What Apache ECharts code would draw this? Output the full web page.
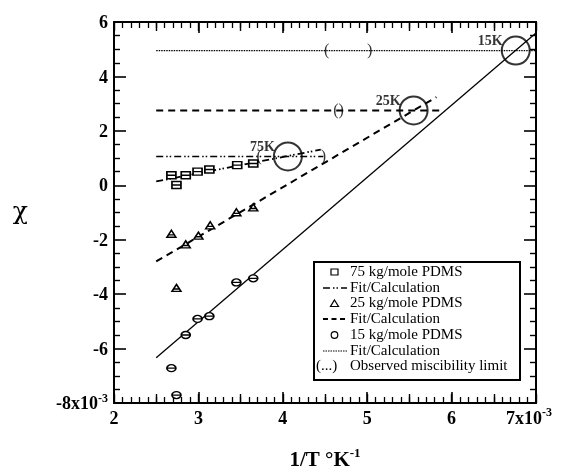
<!DOCTYPE html>
<html>
<head>
<meta charset="utf-8">
<script src="https://cdn.jsdelivr.net/npm/echarts@6/dist/echarts.min.js"></script>
<style>
  html, body { margin: 0; padding: 0; background: #fff; }
  #chart { width: 561px; height: 476px; }
</style>
</head>
<body>
<div id="chart"></div>
<script>
// Flory-Huggins chi versus inverse temperature for three PDMS molecular weights
const FONT = '"Liberation Serif", "Times New Roman", serif';

// measured chi values [1/T, chi]
const pdms75 = [[2.68, 0.37], [2.74, 0.01], [2.85, 0.37], [2.99, 0.50], [3.13, 0.58], [3.46, 0.74], [3.65, 0.80]];
const pdms25 = [[2.68, -1.78], [2.74, -3.77], [2.85, -2.17], [3.00, -1.85], [3.14, -1.47], [3.45, -0.99], [3.65, -0.81]];
const pdms15 = [[2.68, -6.72], [2.74, -7.71], [2.85, -5.50], [2.99, -4.91], [3.13, -4.81], [3.45, -3.57], [3.65, -3.42]];

// linear fits
const fit75 = [[2.5, 0.14], [4.45, 1.31]];
const fit25 = [[2.5, -2.80], [5.82, 3.24]];
const fit15 = [[2.5, -6.34], [7.0, 5.60]];

// calculated critical chi (horizontal lines)
const crit75 = [[2.5, 1.06], [4.48, 1.06]];
const crit25 = [[2.5, 2.75], [5.86, 2.75]];
const crit15 = [[2.5, 4.95], [7.0, 4.95]];

// intersection circles
const critPoints = [[4.06, 1.06], [5.55, 2.75], [6.76, 4.95]];
const critNames = ['75K', '25K', '15K'];

// observed miscibility limits, drawn as brackets
const limitPos = [[3.72, 1.06], [4.48, 1.06], [4.66, 2.75], [4.52, 4.95], [5.03, 4.95]];
const limitMarks = ['(', ')', '()', '(', ')'];

// axis ticks
const xMin = 2, xMax = 7, xStep = 1;
const yMin = -8, yMax = 6, yStep = 2;

const SQ = 'path://M0,0 L10,0 L10,8 L0,8 Z M0,4 L10,4';
const TRI = 'path://M5,0 L10,8 L0,8 Z M1.6,5.3 L8.4,5.3';
const CIR = 'path://M0,4 A5,4 0 1,1 10,4 A5,4 0 1,1 0,4 Z M0,4 L10,4';

const DASHDOT = [7, 3, 1.5, 2, 1.5, 3];
const DASH = [7, 5];
const DOT = [1.5, 1];

// tick labels with raised exponent
const labelRich = {
  b: { fontFamily: FONT, fontSize: 18, fontWeight: 'bold', color: '#000', verticalAlign: 'bottom', padding: [3, 0, 0, 0] },
  s: { fontFamily: FONT, fontSize: 12, fontWeight: 'bold', color: '#000', verticalAlign: 'top' },
  sr: { fontFamily: FONT, fontSize: 12, fontWeight: 'bold', color: '#000', verticalAlign: 'top', padding: [0, 14, 0, 0] }
};

function xAxisCfg(pos, main) {
  return {
    type: 'value', position: pos, min: xMin, max: xMax, interval: xStep,
    axisLine: { show: true, onZero: false, lineStyle: { color: '#000', width: 2 } },
    axisTick: { show: true, inside: true, length: 11, lineStyle: { color: '#000', width: 1.6 } },
    minorTick: { show: true, splitNumber: 10, length: 6, lineStyle: { color: '#000', width: 1.3 } },
    splitLine: { show: false },
    axisLabel: main ? {
      show: true, margin: 4, rich: labelRich,
      formatter: v => v === xMax ? '{b|' + v + 'x10}{sr|-3}' : '{b|' + v + '}'
    } : { show: false },
    name: main ? '{t|1/T °K}{ts|-1}' : '',
    nameLocation: 'middle', nameGap: 44,
    nameTextStyle: {
      rich: {
        t: { fontFamily: FONT, fontSize: 21, fontWeight: 'bold', color: '#000', verticalAlign: 'bottom', padding: [3, 0, 0, 0] },
        ts: { fontFamily: FONT, fontSize: 13, fontWeight: 'bold', color: '#000', verticalAlign: 'top' }
      }
    }
  };
}
function xHalfCfg(pos) {
  return {
    type: 'value', position: pos, min: xMin, max: xMax, interval: 0.5,
    axisLine: { show: false, onZero: false },
    axisTick: { show: true, inside: true, length: 9, lineStyle: { color: '#000', width: 1.4 } },
    splitLine: { show: false }, axisLabel: { show: false }
  };
}
function yAxisCfg(pos, main) {
  return {
    type: 'value', position: pos, min: yMin, max: yMax, interval: yStep,
    axisLine: { show: true, onZero: false, lineStyle: { color: '#000', width: 2 } },
    axisTick: { show: true, inside: true, length: 12, lineStyle: { color: '#000', width: 1.6 } },
    minorTick: { show: true, splitNumber: 4, length: 6, lineStyle: { color: '#000', width: 1.4 } },
    splitLine: { show: false },
    axisLabel: main ? {
      show: true, margin: 6, rich: labelRich,
      formatter: v => v === yMin ? '{b|' + v + 'x10}{s|-3}' : '{b|' + v + '}'
    } : { show: false },
    name: main ? 'χ' : '',
    nameLocation: 'middle', nameGap: 86, nameRotate: 0,
    nameTextStyle: { fontFamily: '"DejaVu Serif", serif', fontSize: 25, color: '#000' }
  };
}

function lineSeries(data, type, width) {
  return {
    type: 'line', data: data, symbol: 'none', silent: true, z: 3,
    lineStyle: { color: '#000', width: width, type: type }
  };
}
function markerSeries(data, symbol, size) {
  return {
    type: 'scatter', data: data, symbol: symbol, symbolSize: size, z: 5,
    itemStyle: { color: '#fff', borderColor: '#000', borderWidth: 1.5, opacity: 1 }
  };
}

// legend drawn as a boxed key inside the plot
const LX = 314, LY = 262, LW = 206, LH = 118;
const rowY = [272, 288, 303.5, 319, 335, 351, 366.5];
const legendText = ['75 kg/mole PDMS', 'Fit/Calculation', '25 kg/mole PDMS', 'Fit/Calculation',
  '15 kg/mole PDMS', 'Fit/Calculation', 'Observed miscibility limit'];
const legendGraphic = [
  { type: 'rect', shape: { x: LX, y: LY, width: LW, height: LH },
    style: { fill: '#fff', stroke: '#000', lineWidth: 2 }, z: 10 }
];
legendText.forEach((t, i) => {
  legendGraphic.push({ type: 'text', z: 11,
    style: { x: 350, y: rowY[i], text: t, font: '15px ' + FONT, fill: '#000', verticalAlign: 'middle' } });
});
legendGraphic.push(
  { type: 'rect', z: 11, shape: { x: 331, y: rowY[0] - 3, width: 7, height: 6 }, style: { fill: '#fff', stroke: '#000', lineWidth: 1.2 } },
  { type: 'line', z: 11, shape: { x1: 323, y1: rowY[1], x2: 347, y2: rowY[1] }, style: { stroke: '#000', lineWidth: 1.6, lineDash: DASHDOT } },
  { type: 'polygon', z: 11, shape: { points: [[334.5, rowY[2] - 3.5], [338.5, rowY[2] + 3], [330.5, rowY[2] + 3]] }, style: { fill: '#fff', stroke: '#000', lineWidth: 1.2 } },
  { type: 'line', z: 11, shape: { x1: 323, y1: rowY[3], x2: 347, y2: rowY[3] }, style: { stroke: '#000', lineWidth: 1.8, lineDash: [5, 3.5] } },
  { type: 'circle', z: 11, shape: { cx: 334.5, cy: rowY[4], r: 3.3 }, style: { fill: '#fff', stroke: '#000', lineWidth: 1.2 } },
  { type: 'line', z: 11, shape: { x1: 323, y1: rowY[5], x2: 347, y2: rowY[5] }, style: { stroke: '#000', lineWidth: 1.2, lineDash: DOT } },
  { type: 'text', z: 11, style: { x: 316, y: rowY[6], text: '(...)', font: '15px ' + FONT, fill: '#000', verticalAlign: 'middle' } }
);

const chart = echarts.init(document.getElementById('chart'), null, { renderer: 'canvas' });
chart.setOption({
  backgroundColor: '#fff',
  animation: false,
  grid: { left: 114, top: 22, right: 25, bottom: 63, containLabel: false },
  xAxis: [xAxisCfg('bottom', true), xAxisCfg('top', false), xHalfCfg('bottom'), xHalfCfg('top')],
  yAxis: [yAxisCfg('left', true), yAxisCfg('right', false)],
  series: [
    lineSeries(crit15, DOT, 1.2),
    lineSeries(crit25, DASH, 2),
    lineSeries(crit75, DASHDOT, 1.6),
    lineSeries(fit15, 'solid', 1.3),
    lineSeries(fit25, DASH, 2),
    lineSeries(fit75, DASHDOT, 1.8),
    markerSeries(pdms75, SQ, [9, 7]),
    markerSeries(pdms25, TRI, [9, 7]),
    markerSeries(pdms15, CIR, [9, 7]),
    {
      type: 'scatter', z: 6,
      data: critPoints.map((p, i) => ({ value: p, name: critNames[i] })),
      symbol: 'circle', symbolSize: 28,
      itemStyle: { color: 'rgba(0,0,0,0)', borderColor: '#000', borderWidth: 2 },
      label: {
        show: true, position: 'left', distance: 0, offset: [2, -9],
        formatter: p => p.name,
        fontFamily: FONT, fontSize: 14, fontWeight: 'bold', color: '#000'
      }
    },
    {
      type: 'scatter', z: 6, symbol: 'circle', symbolSize: 2,
      itemStyle: { color: 'rgba(0,0,0,0)' },
      data: limitPos.map((p, i) => ({ value: p, name: limitMarks[i] })),
      label: {
        show: true, position: 'inside', formatter: p => p.name,
        fontFamily: FONT, fontSize: 16, color: '#000'
      }
    }
  ],
  graphic: legendGraphic
});
</script>
</body>
</html>
